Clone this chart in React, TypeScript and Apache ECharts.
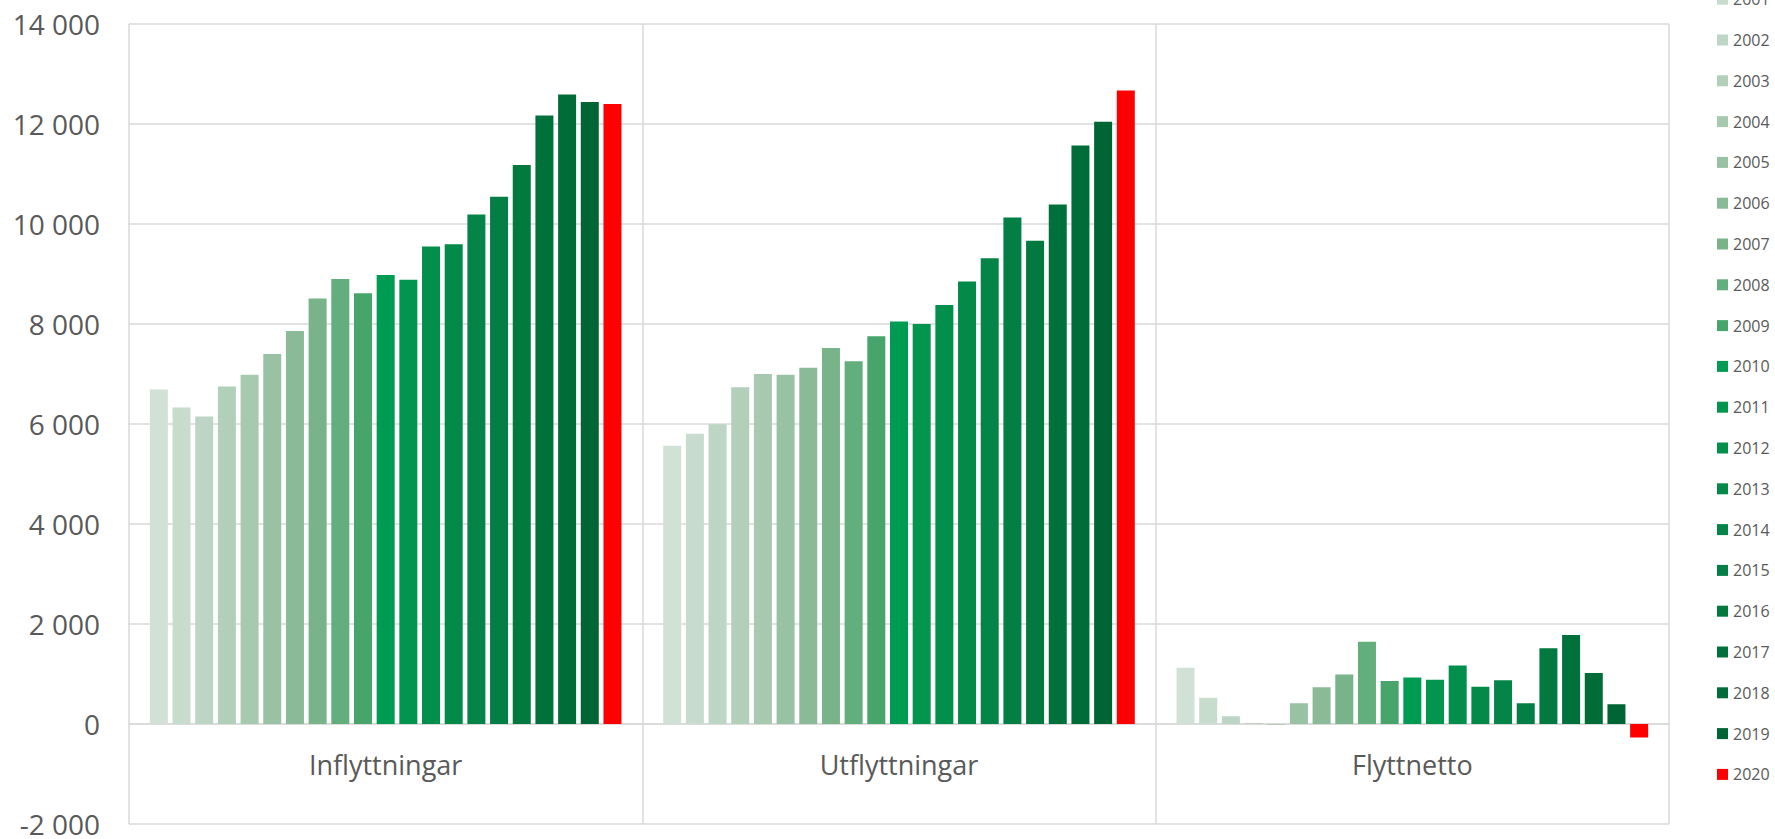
import React, { useEffect, useRef } from "react";
import * as echarts from "echarts";

const categories = ["Inflyttningar", "Utflyttningar", "Flyttnetto"];
const years = [
  "2000", "2001", "2002", "2003", "2004", "2005", "2006", "2007", "2008", "2009", "2010",
  "2011", "2012", "2013", "2014", "2015", "2016", "2017", "2018", "2019", "2020",
];
const inflyttningar = [
  6690, 6330, 6150, 6750, 6985, 7400, 7860, 8510, 8900, 8615, 8980,
  8885, 9550, 9595, 10190, 10545, 11180, 12170, 12590, 12440, 12400,
];
const utflyttningar = [
  5565, 5805, 5995, 6735, 7000, 6985, 7125, 7520, 7255, 7755, 8050,
  8000, 8380, 8850, 9315, 10130, 9665, 10390, 11570, 12045, 12670,
];
const flyttnetto = [
  1125, 525, 155, 15, -15, 415, 735, 990, 1645, 860, 930,
  885, 1170, 745, 875, 415, 1515, 1780, 1020, 395, -270,
];
const yearColors = [
  "#d1e1d5", "#c8dccd", "#bdd5c4", "#b2cfba", "#a7c9b0", "#99c2a4", "#8aba98",
  "#78b38a", "#63ae7d", "#47a56b", "#009b52", "#01954e", "#028f4b", "#038a49",
  "#048547", "#037e44", "#01793f", "#01713b", "#006c37", "#006534", "#ff0000",
];
const yTicks = { min: -2000, max: 14000, interval: 2000 };

const fmt = (v: number) => {
  const s = Math.abs(v).toString().replace(/\B(?=(\d{3})+(?!\d))/g, " ");
  return (v < 0 ? "-" : "") + s;
};

export default function App() {
  const ref = useRef<HTMLDivElement>(null);
  useEffect(() => {
    if (!ref.current) return;
    const chart = echarts.init(ref.current, undefined, { renderer: "svg" });
    const series = years.map((y, i) => ({
      name: y,
      type: "bar",
      data: [inflyttningar[i], utflyttningar[i], flyttnetto[i]],
      barWidth: 18,
      barGap: "26%",
      itemStyle: { color: yearColors[i] },
    }));
    const top = 24;
    const bottom = 15;
    const plotH = 839 - top - bottom;
    const zeroFromBottom = (plotH * (0 - yTicks.min)) / (yTicks.max - yTicks.min);
    chart.setOption({
      animation: false,
      textStyle: { fontFamily: "Open Sans" },
      grid: {
        left: 129,
        right: 106,
        top,
        bottom,
        containLabel: false,
        outerBoundsMode: "none",
      },
      legend: {
        orient: "vertical",
        left: 1717,
        top: -49.6,
        padding: 0,
        itemWidth: 11,
        itemHeight: 11,
        itemGap: 24.8,
        icon: "rect",
        data: years,
        textStyle: { fontFamily: "Open Sans", fontSize: 16, lineHeight: 16, color: "#595959" },
      },
      xAxis: {
        type: "category",
        data: categories,
        position: "bottom",
        offset: -zeroFromBottom,
        axisLine: { show: true, onZero: false, lineStyle: { color: "#d9d9d9", width: 1.5 } },
        axisTick: { show: false },
        axisLabel: { margin: 27, fontFamily: "Open Sans", fontSize: 27, color: "#595959" },
        splitLine: { show: true, lineStyle: { color: "#d9d9d9", width: 1.5 } },
      },
      yAxis: {
        type: "value",
        min: yTicks.min,
        max: yTicks.max,
        interval: yTicks.interval,
        axisLine: { show: false },
        axisTick: { show: false },
        axisLabel: {
          margin: 29,
          fontFamily: "Open Sans",
          fontSize: 28,
          color: "#595959",
          formatter: (v: number) => fmt(v),
        },
        splitLine: { show: true, lineStyle: { color: "#d9d9d9", width: 1.5 } },
      },
      series,
    });
    return () => chart.dispose();
  }, []);
  return (
    <div
      ref={ref}
      style={{ position: "absolute", left: 0, top: 0, width: 1775, height: 839, background: "#fff" }}
    />
  );
}
